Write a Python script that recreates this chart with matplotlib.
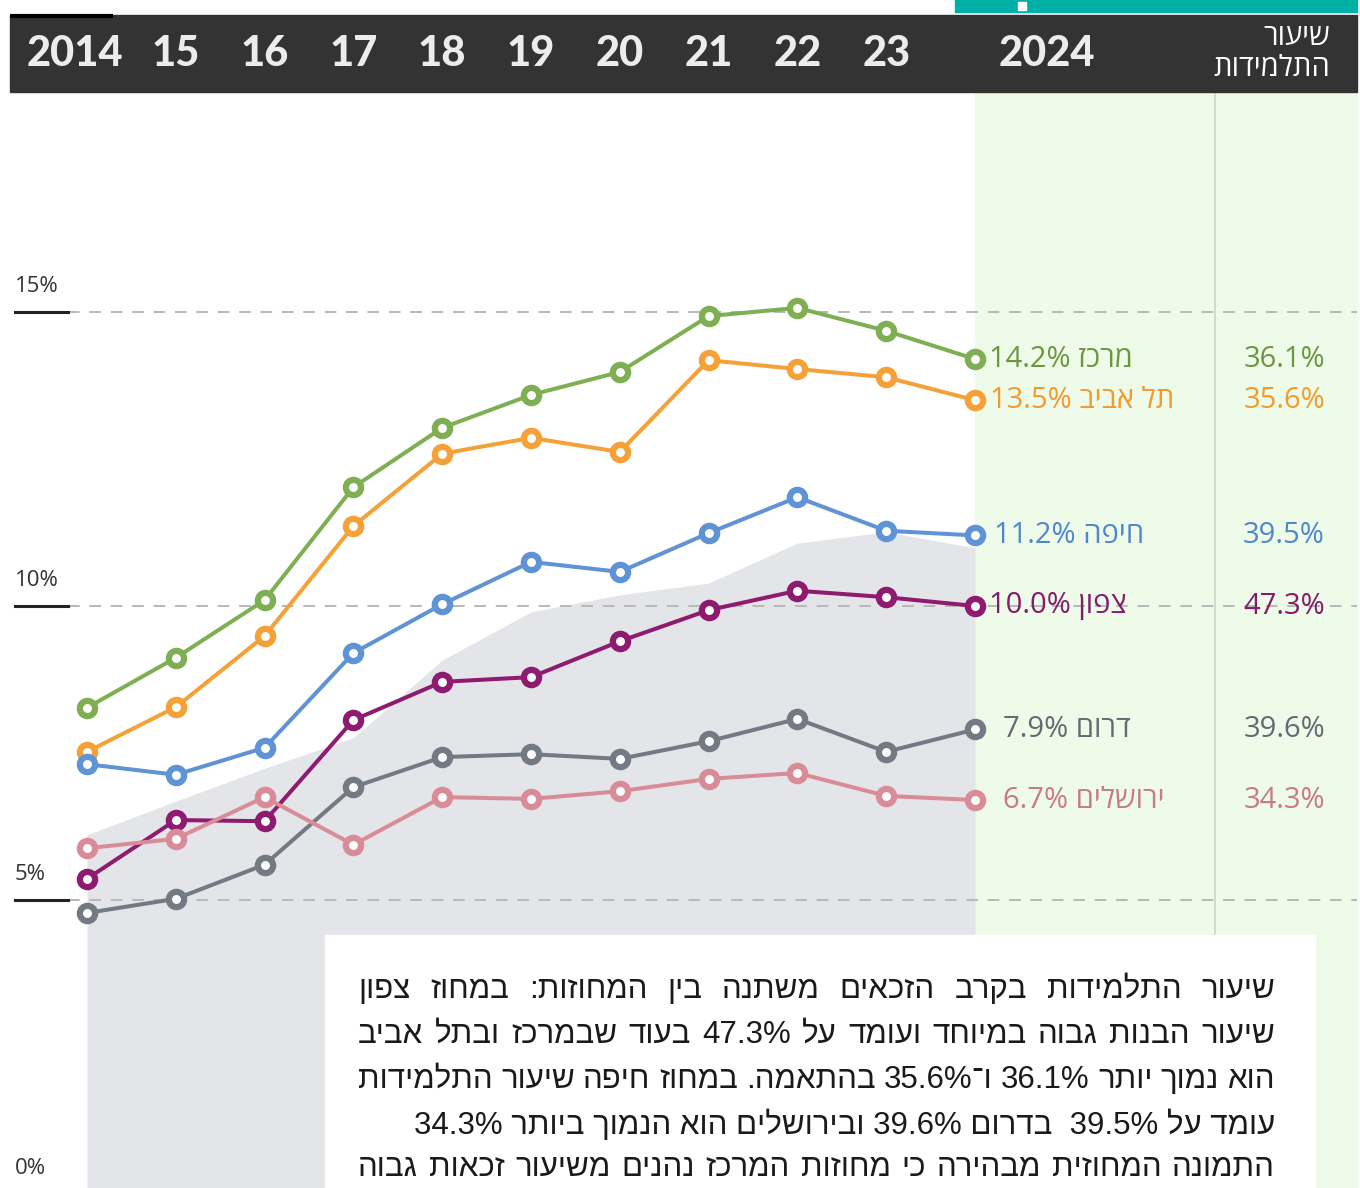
import re
import matplotlib
matplotlib.use("Agg")
import matplotlib.pyplot as plt
import matplotlib.transforms as mtransforms
from matplotlib.patches import Rectangle

# ---------------- data ----------------
years = [2014, 2015, 2016, 2017, 2018, 2019, 2020, 2021, 2022, 2023, 2024]
year_labels = ["2014", "15", "16", "17", "18", "19", "20", "21", "22", "23", "2024"]

center = [8.27, 9.12, 10.10, 12.02, 13.03, 13.59, 13.98, 14.93, 15.07, 14.68, 14.2]
telaviv = [7.52, 8.28, 9.49, 11.36, 12.59, 12.86, 12.62, 14.18, 14.03, 13.89, 13.5]
haifa = [7.31, 7.13, 7.59, 9.20, 10.03, 10.75, 10.58, 11.24, 11.85, 11.28, 11.2]
north = [5.36, 6.36, 6.34, 8.06, 8.71, 8.79, 9.40, 9.93, 10.26, 10.15, 10.0]
south = [4.78, 5.02, 5.60, 6.92, 7.43, 7.48, 7.40, 7.70, 8.08, 7.52, 7.9]
jerusalem = [5.88, 6.04, 6.75, 5.94, 6.75, 6.72, 6.85, 7.06, 7.16, 6.77, 6.7]
national = [6.11, 6.68, 7.24, 7.76, 9.08, 9.90, 10.19, 10.39, 11.07, 11.26, 10.99]

district_names = ["מרכז", "תל אביב", "חיפה", "צפון", "דרום", "ירושלים"]
girls_share = ["36.1%", "35.6%", "39.5%", "47.3%", "39.6%", "34.3%"]
series = [center, telaviv, haifa, north, south, jerusalem]
line_colors = ["#7eaf52", "#f6a138", "#5f93d6", "#8e1b70", "#737a84", "#d98c97"]
text_colors = ["#6e9642", "#f29a2e", "#5086cc", "#861a6b", "#646a73", "#c97a86"]
label_offsets = [10, 11, 14, 10, 20, 20]  # points

y_ticks = [0, 5, 10, 15]
y_tick_labels = ["0%", "5%", "10%", "15%"]

header_title = ["שיעור", "התלמידות"]

body_lines = [
    "שיעור התלמידות בקרב הזכאים משתנה בין המחוזות: במחוז צפון",
    "שיעור הבנות גבוה במיוחד ועומד על 47.3% בעוד שבמרכז ובתל אביב",
    "הוא נמוך יותר 36.1% ו־35.6% בהתאמה. במחוז חיפה שיעור התלמידות",
    "עומד על 39.5%  בדרום 39.6% ובירושלים הוא הנמוך ביותר 34.3%",
    "התמונה המחוזית מבהירה כי מחוזות המרכז נהנים משיעור זכאות גבוה",
]
body_justify = [True, True, True, False, True]


def vis(s):
    """Logical RTL string -> visual order (numbers kept LTR)."""
    r = s[::-1]
    return re.sub(r"[0-9.%]+", lambda m: m.group(0)[::-1], r)


# ---------------- figure ----------------
W, H = 1360, 1188
fig = plt.figure(figsize=(W / 100, H / 100), dpi=100)

HEB = ["Open Sans", "DejaVu Sans"]
BODY = ["Liberation Sans", "DejaVu Sans"]

# background (pixel coords)
bg = fig.add_axes([0, 0, 1, 1])
bg.set_xlim(0, W)
bg.set_ylim(H, 0)
bg.axis("off")
bg.add_patch(Rectangle((975, 92), 1357 - 975, H - 92, color="#edfbe8", zorder=1))
bg.plot([1215, 1215], [92, 935], color="#cbd8c8", lw=1.2, zorder=2)
bg.add_patch(Rectangle((10, 15), 1347, 77, color="#333333", zorder=3))
bg.add_patch(Rectangle((955, 0), 1357 - 955, 12, color="#00afa6", zorder=3))
bg.add_patch(Rectangle((1018, 2), 8, 8, color="white", zorder=4))
bg.plot([10, 113], [16, 16], color="black", lw=3, zorder=4, solid_capstyle="butt")
bg.text(1330, 37, vis(header_title[0]), ha="right", va="center", color="white",
        fontsize=21, family=HEB, zorder=5)
bg.text(1330, 69, vis(header_title[1]), ha="right", va="center", color="white",
        fontsize=21, family=HEB, zorder=5)

# data axes
x0, px_per_year = 87, 88.8
y0px, px_per_pct = 1194, 58.8
ax = fig.add_axes([0, 0, 1, 1])
ax.set_xlim(2014 - x0 / px_per_year, 2014 + (W - x0) / px_per_year)
ax.set_ylim((y0px - H) / px_per_pct, y0px / px_per_pct)
ax.patch.set_alpha(0)
ax.axis("off")

ax.fill_between(years, 0, national, color="#e4e5e9", lw=0, zorder=1)

figx = mtransforms.blended_transform_factory(fig.transFigure, ax.transData)
for v, lab in zip(y_ticks, y_tick_labels):
    if v > 0:
        ax.axhline(v, xmin=68 / W, xmax=1357 / W, color="#b8b8b8", lw=1.4,
                   dashes=(6, 5), zorder=2)
    ax.axhline(v, xmin=15 / W, xmax=68 / W, color="#222222", lw=2.2, zorder=3)
    ax.text(15 / W, v + 0.43, lab, transform=figx, ha="left", va="center",
            fontsize=16, color="#333333", family=HEB, zorder=3)

# header year labels
hdr = mtransforms.blended_transform_factory(ax.transData, bg.transData)
for yr, lab in zip(years, year_labels):
    xx = yr
    if lab == "2014":
        xx = yr - 12 / px_per_year
    elif lab == "2024":
        xx = yr + 72 / px_per_year
    ax.text(xx, 54, lab, transform=hdr, ha="center", va="center",
            fontsize=30, fontweight="black", family=["Lato", "DejaVu Sans"],
            color="#ececec", zorder=6, clip_on=False)

for vals, lc, tc, name, share, off in zip(series, line_colors, text_colors,
                                          district_names, girls_share, label_offsets):
    ax.plot(years, vals, color=lc, lw=2.9, zorder=4, marker="o", ms=11,
            mew=4.5, mfc="#fbfbfb", mec=lc, solid_capstyle="round")
    ax.annotate(vis(f"{name} {vals[-1]:.1f}%"), xy=(years[-1], vals[-1]),
                xytext=(off, 0), textcoords="offset points", ha="left",
                va="center", fontsize=21, fontweight="medium", color=tc,
                family=HEB, zorder=5)
    ax.text(1325 / W, vals[-1], share, transform=figx, ha="right", va="center",
            fontsize=21, fontweight="medium", color=tc, family=HEB, zorder=5)

# foreground text box
fg = fig.add_axes([0, 0, 1, 1])
fg.set_xlim(0, W)
fg.set_ylim(H, 0)
fg.axis("off")
fg.patch.set_alpha(0)
fg.add_patch(Rectangle((325, 935), 1315 - 325, H - 935, color="white", zorder=1))

renderer = fig.canvas.get_renderer()
left_edge, right_edge = 358, 1275
line_y = [990, 1035, 1080, 1125, 1168]
BODY_FS = 22.5
for line, yy, just in zip(body_lines, line_y, body_justify):
    if just:
        words = [vis(w) for w in reversed(line.split())]
        texts = [fg.text(0, yy, w, ha="left", va="center", fontsize=BODY_FS,
                         family=BODY, color="#1a1a1a", zorder=2) for w in words]
        widths = [t.get_window_extent(renderer).width for t in texts]
        gap = (right_edge - left_edge - sum(widths)) / (len(words) - 1)
        xx = left_edge
        for t, w in zip(texts, widths):
            t.set_x(xx)
            xx += w + gap
    else:
        fg.text(right_edge, yy, vis(line), ha="right", va="center", fontsize=BODY_FS,
                family=BODY, color="#1a1a1a", zorder=2)

fig.savefig("out.png", dpi=100)
